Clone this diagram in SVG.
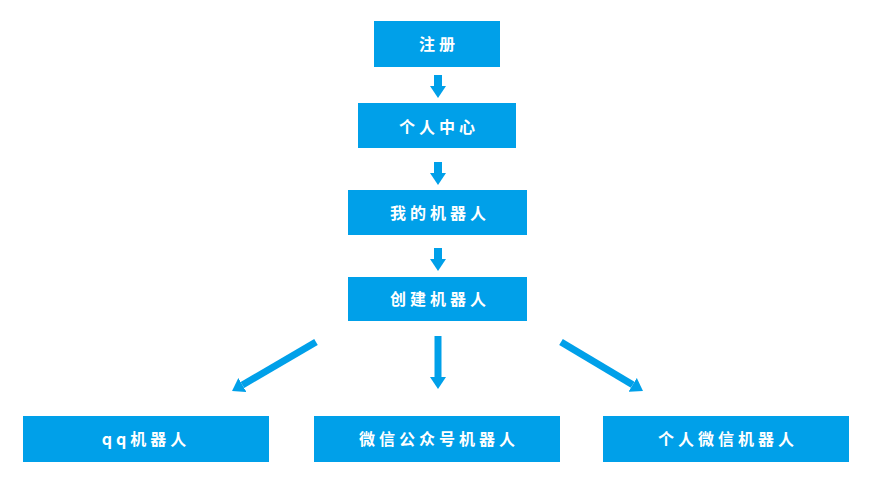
<svg xmlns="http://www.w3.org/2000/svg" width="888" height="488" viewBox="0 0 888 488">
<style>
.box{fill:#00A0E9}
.t{fill:#fff;font-family:"Noto Sans CJK SC","Noto Sans",sans-serif;font-size:16px;font-weight:bold;text-anchor:middle;letter-spacing:4px}
.c{stroke:#00A0E9;fill:none}
</style>
<defs>
<marker id="ah" markerUnits="userSpaceOnUse" viewBox="0 0 12 16" refX="0" refY="8" markerWidth="12" markerHeight="16" orient="auto">
<path d="M0,0 L12,8 L0,16 Z" fill="#00A0E9"/>
</marker>
</defs>
<rect width="888" height="488" fill="#fff"/>
<g id="n1"><rect class="box" x="374" y="21" width="126" height="46"/><text class="t" x="439" y="50">注册</text></g>
<g id="n2"><rect class="box" x="358" y="103" width="158" height="45"/><text class="t" x="439" y="133">个人中心</text></g>
<g id="n3"><rect class="box" x="348" y="190" width="179" height="45"/><text class="t" x="440" y="219">我的机器人</text></g>
<g id="n4"><rect class="box" x="348" y="277" width="179" height="44"/><text class="t" x="440" y="305">创建机器人</text></g>
<g id="n5"><rect class="box" x="23" y="416" width="246" height="46"/><text class="t" x="146" y="445">qq机器人</text></g>
<g id="n6"><rect class="box" x="314" y="416" width="246" height="46"/><text class="t" x="439" y="445">微信公众号机器人</text></g>
<g id="n7"><rect class="box" x="603" y="416" width="246" height="46"/><text class="t" x="728" y="445">个人微信机器人</text></g>
<g id="connectors">
<line class="c" stroke-width="8" x1="438" y1="75" x2="438" y2="86" marker-end="url(#ah)"/>
<line class="c" stroke-width="8" x1="438" y1="162" x2="438" y2="173" marker-end="url(#ah)"/>
<line class="c" stroke-width="8" x1="438" y1="248" x2="438" y2="259" marker-end="url(#ah)"/>
<line class="c" stroke-width="7" x1="438" y1="336" x2="438" y2="377" marker-end="url(#ah)"/>
<line class="c" stroke-width="7" x1="316" y1="342" x2="242.4" y2="385" marker-end="url(#ah)"/>
<line class="c" stroke-width="7" x1="561" y1="342" x2="632.7" y2="384.8" marker-end="url(#ah)"/>
</g>
</svg>
